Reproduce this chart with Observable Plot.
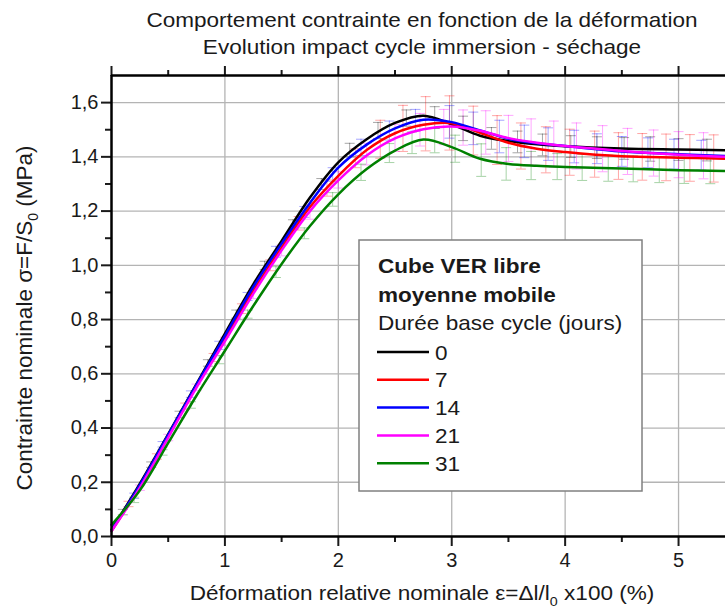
<!DOCTYPE html>
<html><head><meta charset="utf-8">
<script src="https://cdn.jsdelivr.net/npm/d3@7"></script>
<script src="https://cdn.jsdelivr.net/npm/@observablehq/plot@0.6"></script>
<style>
html,body{margin:0;padding:0;background:#fff;overflow:hidden;}
#wrap{position:relative;width:725px;height:612px;overflow:hidden;}
#wrap svg{position:absolute;left:0;top:0;}
</style></head><body><div id="wrap"></div>
<script>
// ---- data ----
const SERIES = ["0", "7", "14", "21", "31"];
const COLORS = ["#000000", "#ff0000", "#0000ff", "#ff00ff", "#008000"];

const X = [0, 0.25, 0.5, 0.75, 1.0, 1.25, 1.5, 1.75, 2.0, 2.25, 2.5, 2.75, 3.0, 3.25, 3.5, 3.75, 4.0, 4.5, 5.0, 5.42];
const Y0  = [0.025, 0.195, 0.378, 0.563, 0.748, 0.93, 1.09, 1.25, 1.38, 1.465, 1.525, 1.552, 1.52, 1.478, 1.458, 1.446, 1.439, 1.431, 1.427, 1.424];
const Y7  = [0.02, 0.185, 0.37, 0.555, 0.73, 0.905, 1.065, 1.215, 1.33, 1.425, 1.487, 1.518, 1.524, 1.489, 1.452, 1.43, 1.418, 1.402, 1.397, 1.393];
const Y14 = [0.022, 0.19, 0.375, 0.56, 0.74, 0.92, 1.08, 1.23, 1.36, 1.445, 1.505, 1.537, 1.528, 1.497, 1.467, 1.45, 1.44, 1.42, 1.41, 1.403];
const Y21 = [0.02, 0.18, 0.365, 0.55, 0.72, 0.895, 1.055, 1.2, 1.313, 1.405, 1.468, 1.502, 1.512, 1.496, 1.469, 1.452, 1.44, 1.422, 1.408, 1.4];
const Y31 = [0.043, 0.17, 0.345, 0.52, 0.685, 0.85, 1.005, 1.145, 1.262, 1.355, 1.423, 1.464, 1.436, 1.393, 1.374, 1.367, 1.363, 1.357, 1.351, 1.348];

// error bars: [x, mean, half-width]
const ERR0 = [[0.1,0.09,0.01],[0.35,0.265,0.01],[0.6,0.45,0.012],[0.85,0.64,0.012],[1.1,0.82,0.015],[1.35,1.0,0.015],[1.6,1.15,0.018],[1.85,1.3,0.02],[2.1,1.425,0.025],[2.35,1.497,0.03],[2.6,1.543,0.03],[2.85,1.545,0.04],[3.1,1.505,0.045],[3.35,1.468,0.04],[3.58,1.455,0.04],[3.8,1.444,0.04],[4.05,1.438,0.04],[4.28,1.434,0.04],[4.52,1.431,0.04],[4.75,1.429,0.045],[5.0,1.427,0.04],[5.25,1.425,0.04]];
const ERR7 = [[0.15,0.12,0.01],[0.4,0.295,0.01],[0.65,0.48,0.012],[0.9,0.66,0.015],[1.15,0.84,0.018],[1.4,1.0,0.02],[1.65,1.155,0.025],[1.9,1.285,0.03],[2.15,1.395,0.035],[2.37,1.465,0.07],[2.57,1.505,0.085],[2.77,1.522,0.1],[2.98,1.525,0.1],[3.19,1.497,0.09],[3.4,1.462,0.09],[3.61,1.44,0.085],[3.83,1.426,0.085],[4.04,1.417,0.085],[4.26,1.41,0.085],[4.47,1.403,0.086],[4.68,1.4,0.086],[4.89,1.398,0.086],[5.1,1.396,0.086],[5.31,1.394,0.087]];
const ERR14 = [[0.2,0.15,0.01],[0.45,0.34,0.01],[0.7,0.525,0.012],[0.95,0.705,0.015],[1.2,0.885,0.015],[1.45,1.05,0.02],[1.7,1.197,0.02],[1.95,1.335,0.025],[2.2,1.435,0.03],[2.45,1.497,0.035],[2.68,1.535,0.04],[2.98,1.529,0.06],[3.19,1.505,0.06],[3.42,1.475,0.06],[3.64,1.457,0.06],[3.85,1.447,0.06],[4.08,1.438,0.06],[4.28,1.43,0.055],[4.5,1.42,0.055],[4.73,1.415,0.055],[4.96,1.41,0.055],[5.2,1.406,0.055]];
const ERR21 = [[0.25,0.18,0.01],[0.5,0.365,0.012],[0.75,0.55,0.012],[1.0,0.72,0.015],[1.25,0.895,0.018],[1.5,1.055,0.02],[1.75,1.195,0.025],[2.0,1.315,0.03],[2.25,1.41,0.04],[2.5,1.47,0.05],[2.72,1.5,0.06],[2.93,1.51,0.065],[3.1,1.508,0.065],[3.3,1.49,0.08],[3.5,1.468,0.085],[3.7,1.455,0.085],[3.9,1.447,0.085],[4.1,1.44,0.085],[4.33,1.43,0.085],[4.55,1.42,0.085],[4.78,1.414,0.085],[5.0,1.408,0.085],[5.22,1.404,0.085]];
const ERR31 = [[0.2,0.135,0.01],[0.45,0.31,0.01],[0.7,0.485,0.012],[0.95,0.652,0.015],[1.2,0.82,0.015],[1.45,0.975,0.02],[1.7,1.118,0.02],[1.95,1.243,0.025],[2.2,1.343,0.03],[2.45,1.414,0.035],[2.65,1.452,0.04],[2.85,1.46,0.045],[3.03,1.43,0.05],[3.26,1.388,0.06],[3.48,1.374,0.06],[3.7,1.368,0.052],[3.93,1.364,0.048],[4.15,1.361,0.048],[4.38,1.358,0.048],[4.6,1.356,0.048],[4.83,1.353,0.048],[5.05,1.35,0.048],[5.28,1.349,0.048]];

const X_TICKS = [0, 1, 2, 3, 4, 5];
const X_MINOR = [0.5, 1.5, 2.5, 3.5, 4.5];
const Y_TICKS = [0, 0.2, 0.4, 0.6, 0.8, 1.0, 1.2, 1.4, 1.6];
const Y_MINOR = [0.1, 0.3, 0.5, 0.7, 0.9, 1.1, 1.3, 1.5];

const TITLE1 = "Comportement contrainte en fonction de la déformation";
const TITLE2 = "Evolution impact cycle immersion - séchage";
const LEGEND_HEAD1 = "Cube VER libre";
const LEGEND_HEAD2 = "moyenne mobile";
const LEGEND_HEAD3 = "Durée base cycle (jours)";

// ---- build tables ----
const YS = [Y0, Y7, Y14, Y21, Y31];
const ERRS = [ERR0, ERR7, ERR14, ERR21, ERR31];
const lineData = [];
SERIES.forEach((s, i) => X.forEach((x, j) => lineData.push({s, x, y: YS[i][j]})));
const errData = [];
SERIES.forEach((s, i) => ERRS[i].forEach(([x, m, d]) => errData.push({s, x, lo: m - d, hi: m + d})));

const FONT = "'Liberation Sans', Arial, Helvetica, sans-serif";
const cap = {draw(ctx, size) { const r = Math.sqrt(size / Math.PI); ctx.moveTo(-r, 0); ctx.lineTo(r, 0); }};
const fmtY = d => d.toFixed(1).replace(".", ",");

const chart = Plot.plot({
  width: 725, height: 612,
  marginTop: 75, marginBottom: 76, marginLeft: 111, marginRight: 0,
  x: {domain: [0, 5.414], label: null},
  y: {domain: [0, 1.7], label: null},
  color: {domain: SERIES, range: COLORS},
  style: {fontFamily: FONT, fontSize: "20px", color: "#1a1a1a", background: "white"},
  marks: [
    Plot.gridX({ticks: X_TICKS.slice(1), stroke: "#b4b4b4", strokeOpacity: 1, strokeWidth: 1.3}),
    Plot.gridY({ticks: Y_TICKS.slice(1), stroke: "#b4b4b4", strokeOpacity: 1, strokeWidth: 1.3}),
    Plot.ruleX(errData, {x: "x", y1: "lo", y2: "hi", stroke: "s", strokeOpacity: 0.35, strokeWidth: 1}),
    Plot.dot(errData, {x: "x", y: "lo", symbol: cap, r: 5, stroke: "s", fill: "none", strokeOpacity: 0.35, strokeWidth: 1}),
    Plot.dot(errData, {x: "x", y: "hi", symbol: cap, r: 5, stroke: "s", fill: "none", strokeOpacity: 0.35, strokeWidth: 1}),
    Plot.line(lineData, {x: "x", y: "y", z: "s", stroke: "s", strokeWidth: 2.5, curve: "catmull-rom"}),
    Plot.axisX({ticks: X_TICKS, tickSize: 10, tickPadding: 6, tickFormat: d => String(d), strokeWidth: 2, label: null, fontSize: 20}),
    Plot.axisX({ticks: X_MINOR, tickSize: 6, tickFormat: () => "", strokeWidth: 2, label: null}),
    Plot.axisX({anchor: "top", ticks: X_TICKS, tickSize: 10, tickFormat: () => "", strokeWidth: 2, label: null}),
    Plot.axisX({anchor: "top", ticks: X_MINOR, tickSize: 6, tickFormat: () => "", strokeWidth: 2, label: null}),
    Plot.axisY({ticks: Y_TICKS, tickSize: 10, tickPadding: 3, tickFormat: fmtY, strokeWidth: 2, label: null, fontSize: 20}),
    Plot.axisY({ticks: Y_MINOR, tickSize: 6, tickFormat: () => "", strokeWidth: 2, label: null}),
    Plot.ruleX([0], {stroke: "#000", strokeWidth: 2.5}),
    Plot.ruleY([0], {stroke: "#000", strokeWidth: 2.5}),
    Plot.ruleY([1.7], {stroke: "#000", strokeWidth: 2.5})
  ]
});
const wrap = document.getElementById("wrap");
wrap.appendChild(chart);

// ---- overlay texts and legend ----
const ov = d3.select(wrap).append("svg")
  .attr("width", 725).attr("height", 612)
  .style("font-family", FONT).style("pointer-events", "none")
  .attr("fill", "#1a1a1a");

function htext(x, y, txt, size, anchor = "middle", weight = "normal") {
  return ov.append("text").attr("transform", `translate(${x},${y}) scale(1.1,1)`)
    .attr("text-anchor", anchor).attr("font-size", size).attr("font-weight", weight).text(txt);
}
htext(422, 27, TITLE1, 20.5);
htext(422, 54, TITLE2, 20.5);

// x axis label
const xl = ov.append("text").attr("transform", "translate(422,600) scale(1.1,1)")
  .attr("text-anchor", "middle").attr("font-size", 20.5);
xl.append("tspan").text("Déformation relative nominale ε=Δl/l");
xl.append("tspan").attr("font-size", 13).attr("dy", 6).text("0");
xl.append("tspan").attr("dy", -6).text(" x100 (%)");

// y axis label
const yl = ov.append("text").attr("transform", "translate(32,318) rotate(-90)")
  .attr("text-anchor", "middle").attr("font-size", 22.5);
yl.append("tspan").text("Contrainte nominale σ=F/S");
yl.append("tspan").attr("font-size", 14).attr("dy", 6).text("0");
yl.append("tspan").attr("dy", -6).text(" (MPa)");

// legend box
const lg = ov.append("g").attr("transform", "translate(359,240)");
lg.append("rect").attr("width", 283).attr("height", 251).attr("fill", "white").attr("stroke", "#808080").attr("stroke-width", 1.5);
const lgText = (x, y, txt, weight) => lg.append("text").attr("transform", `translate(${x},${y}) scale(1.1,1)`)
  .attr("font-size", 20.5).attr("font-weight", weight).text(txt);
lgText(19, 33, LEGEND_HEAD1, "bold");
lgText(19, 62, LEGEND_HEAD2, "bold");
lgText(19, 90, LEGEND_HEAD3, "normal");
SERIES.forEach((s, i) => {
  const y = 112 + i * 27.8;
  lg.append("line").attr("x1", 18).attr("x2", 70).attr("y1", y).attr("y2", y).attr("stroke", COLORS[i]).attr("stroke-width", 2.5);
  lg.append("text").attr("transform", `translate(76,${y + 7.5}) scale(1.1,1)`).attr("font-size", 20.5).text(s);
});
</script></body></html>
